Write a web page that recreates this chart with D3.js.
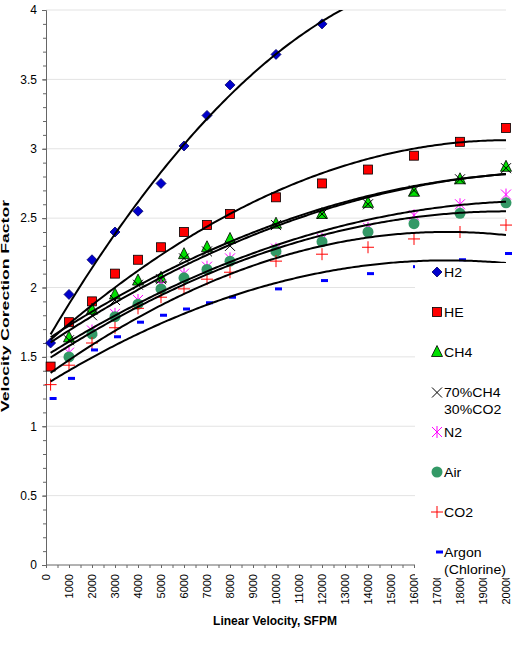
<!DOCTYPE html>
<html><head><meta charset="utf-8">
<script src="https://cdn.jsdelivr.net/npm/d3@7"></script>
<style>body{margin:0;background:#fff}svg{display:block;font-family:Arial,"Liberation Sans",sans-serif}</style>
</head><body><svg id="c" width="518" height="666"></svg>
<script>
// ---- data ----
const xTickValues = d3.range(0, 20001, 1000);
const yTickValues = [0, 0.5, 1, 1.5, 2, 2.5, 3, 3.5, 4];
const xH2 = [200,1000,2000,3000,4000,5000,6000,7000,8000,10000,12000];
const xFull = [200,1000,2000,3000,4000,5000,6000,7000,8000,10000,12000,14000,16000,18000,20000];
const xMid = [1000,2000,3000,4000,5000,6000,7000,8000,10000,12000,14000,16000,18000,20000];
const h2 = [1.60,1.95,2.20,2.40,2.55,2.75,3.02,3.24,3.46,3.68,3.90];
const he = [1.43,1.75,1.90,2.10,2.20,2.29,2.40,2.45,2.53,2.65,2.75,2.85,2.95,3.05,3.15];
const ch4 = [1.64,1.84,1.95,2.05,2.07,2.24,2.29,2.35,2.46,2.53,2.61,2.69,2.78,2.87];
const mix = [1.62,1.80,1.91,2.02,2.06,2.21,2.26,2.30,2.45,2.53,2.60,2.70,2.78,2.86];
const n2 = [1.53,1.69,1.81,1.91,2.02,2.10,2.15,2.21,2.28,2.35,2.43,2.52,2.60,2.67];
const air = [1.50,1.665,1.79,1.88,1.99,2.07,2.13,2.19,2.26,2.33,2.40,2.46,2.535,2.61];
const co2 = [1.30,1.44,1.60,1.71,1.85,1.93,1.99,2.06,2.11,2.19,2.24,2.29,2.35,2.40,2.45];
const argon = [1.20,1.345,1.55,1.645,1.75,1.80,1.845,1.89,1.93,1.99,2.05,2.10,2.15,2.20,2.245];
const seriesNames = ["H2","HE","CH4","70%CH4\n30%CO2","N2","Air","CO2","Argon\n(Chlorine)"];
const trendRange = [200, 20000];

const series = [
  {name: seriesNames[0], xs: xH2, ys: h2, m: "diamond"},
  {name: seriesNames[1], xs: xFull, ys: he, m: "square"},
  {name: seriesNames[2], xs: xMid, ys: ch4, m: "triangle"},
  {name: seriesNames[3], xs: xMid, ys: mix, m: "x"},
  {name: seriesNames[4], xs: xMid, ys: n2, m: "star"},
  {name: seriesNames[5], xs: xMid, ys: air, m: "circle"},
  {name: seriesNames[6], xs: xFull, ys: co2, m: "plus"},
  {name: seriesNames[7], xs: xFull, ys: argon, m: "dash"}
];

// ---- layout ----
const svg = d3.select("#c");
const x = d3.scaleLinear().domain([0, 20000]).range([46, 506]);
const y = d3.scaleLinear().domain([0, 4]).range([565, 10]);

// gridlines
svg.append("g").selectAll("line").data(yTickValues.filter(v => v > 0)).join("line")
  .attr("x1", x(0)).attr("x2", x(20000)).attr("y1", d => y(d)).attr("y2", d => y(d))
  .attr("stroke", "#e3e3e3").attr("stroke-width", 1);

// y axis
const yAxis = svg.append("g").attr("transform", `translate(${x(0)},0)`)
  .call(d3.axisLeft(y).tickValues(yTickValues).tickSize(4).tickPadding(5).tickFormat(d3.format("")));
yAxis.selectAll("text").attr("font-size", 12).attr("fill", "#000").style("font-family", "Arial, 'Liberation Sans'");
yAxis.select(".domain").attr("stroke", "#666");
yAxis.selectAll(".tick line").attr("stroke", "#666");
svg.append("g").attr("transform", `translate(${x(0)},0)`)
  .call(d3.axisLeft(y).tickValues(d3.range(0, 4.0001, 0.1)).tickSize(3).tickFormat(""))
  .call(g => g.select(".domain").remove())
  .selectAll("line").attr("stroke", "#666");

// x axis
const xAxis = svg.append("g").attr("transform", `translate(0,${y(0)})`)
  .call(d3.axisBottom(x).tickValues(d3.range(0, 20001, 500)).tickSize(3).tickFormat(""));
xAxis.select(".domain").attr("stroke", "#666").attr("d", `M${x(0)},0H${x(20000)}`);
xAxis.selectAll("line").attr("stroke", "#666");
svg.append("g").selectAll("text").data(xTickValues).join("text")
  .attr("transform", d => `translate(${x(d)},574) rotate(-90)`)
  .attr("text-anchor", "end").attr("dy", "0.35em").attr("font-size", 11)
  .text(d => String(d));

// axis titles
svg.append("text").attr("x", 275).attr("y", 625).attr("text-anchor", "middle")
  .attr("font-size", 12).attr("font-weight", "bold").text("Linear Velocity, SFPM");
svg.append("text").attr("transform", "translate(9,306) rotate(-90)").attr("text-anchor", "middle")
  .attr("font-size", 11).attr("font-weight", "bold")
  .attr("textLength", 212).attr("lengthAdjust", "spacingAndGlyphs")
  .text("Velocity Corection Factor");

// ---- markers ----
function drawMarker(g, m, cx, cy) {
  if (m === "diamond") {
    g.append("path").attr("d", `M${cx},${cy-5}L${cx+5},${cy}L${cx},${cy+5}L${cx-5},${cy}Z`)
      .attr("fill", "#0000cc").attr("stroke", "#000066").attr("stroke-width", 0.8);
  } else if (m === "square") {
    g.append("rect").attr("x", cx-4.5).attr("y", cy-4.5).attr("width", 9).attr("height", 9)
      .attr("fill", "#ff0000").attr("stroke", "#000").attr("stroke-width", 0.8);
  } else if (m === "triangle") {
    g.append("path").attr("d", `M${cx},${cy-6.5}L${cx+5.5},${cy+4.5}L${cx-5.5},${cy+4.5}Z`)
      .attr("fill", "#00e000").attr("stroke", "#000").attr("stroke-width", 0.8);
  } else if (m === "x") {
    g.append("path").attr("d", `M${cx-5},${cy-5}L${cx+5},${cy+5}M${cx+5},${cy-5}L${cx-5},${cy+5}`)
      .attr("stroke", "#000").attr("stroke-width", 1).attr("fill", "none");
  } else if (m === "star") {
    g.append("path").attr("d", `M${cx-5},${cy-5}L${cx+5},${cy+5}M${cx+5},${cy-5}L${cx-5},${cy+5}M${cx},${cy-6}L${cx},${cy+6}`)
      .attr("stroke", "#ff00ff").attr("stroke-width", 1).attr("fill", "none");
  } else if (m === "circle") {
    g.append("circle").attr("cx", cx).attr("cy", cy).attr("r", 5.5).attr("fill", "#339966");
  } else if (m === "plus") {
    g.append("path").attr("d", `M${cx-6},${cy}L${cx+6},${cy}M${cx},${cy-6}L${cx},${cy+6}`)
      .attr("stroke", "#ff0000").attr("stroke-width", 1).attr("fill", "none");
  } else if (m === "dash") {
    g.append("rect").attr("x", cx-1).attr("y", cy-1.5).attr("width", 7).attr("height", 3).attr("fill", "#0000ff");
  }
}

const marks = svg.append("g");
series.forEach(s => {
  const g = marks.append("g");
  s.xs.forEach((xv, i) => drawMarker(g, s.m, x(xv), y(s.ys[i])));
});

// ---- polynomial (order 2) trendlines ----
function fitQuad(xs, ys) {
  const X = xs.map(v => v / 10000);
  let S = [0,0,0,0,0], T = [0,0,0];
  X.forEach((xv, i) => {
    for (let k = 0; k < 5; k++) S[k] += Math.pow(xv, k);
    for (let k = 0; k < 3; k++) T[k] += ys[i] * Math.pow(xv, k);
  });
  const A = [[S[0],S[1],S[2],T[0]],[S[1],S[2],S[3],T[1]],[S[2],S[3],S[4],T[2]]];
  for (let i = 0; i < 3; i++) {
    for (let j = i + 1; j < 3; j++) {
      const f = A[j][i] / A[i][i];
      for (let k = i; k < 4; k++) A[j][k] -= f * A[i][k];
    }
  }
  const c = [0,0,0];
  for (let i = 2; i >= 0; i--) {
    let s = A[i][3];
    for (let k = i + 1; k < 3; k++) s -= A[i][k] * c[k];
    c[i] = s / A[i][i];
  }
  return v => { const t = v / 10000; return c[0] + c[1]*t + c[2]*t*t; };
}

svg.append("clipPath").attr("id", "plotclip").append("rect")
  .attr("x", x(0)).attr("y", y(4)).attr("width", x(20000) - x(0)).attr("height", y(0) - y(4));
const lines = svg.append("g").attr("clip-path", "url(#plotclip)");
const line = d3.line().x(d => x(d[0])).y(d => y(d[1])).curve(d3.curveLinear);
series.forEach(s => {
  const f = fitQuad(s.xs, s.ys);
  const pts = d3.range(trendRange[0], trendRange[1] + 1, 100).map(v => [v, f(v)]);
  lines.append("path").attr("d", line(pts)).attr("fill", "none")
    .attr("stroke", "#000").attr("stroke-width", 2);
});

// ---- legend ----
const leg = svg.append("g");
leg.append("rect").attr("x", 415).attr("y", 263).attr("width", 103).attr("height", 315).attr("fill", "#fff");
const legY = [272, 312, 352, 392.5, 432, 472, 512, 552];
series.forEach((s, i) => {
  const g = leg.append("g");
  drawMarker(g, s.m, 437, legY[i]);
  s.name.split("\n").forEach((ln, j) => {
    g.append("text").attr("transform", `translate(444,${legY[i] + j * 17}) scale(1.13,1)`)
      .attr("dy", "0.36em").attr("font-size", 12.5).text(ln);
  });
});
</script></body></html>
